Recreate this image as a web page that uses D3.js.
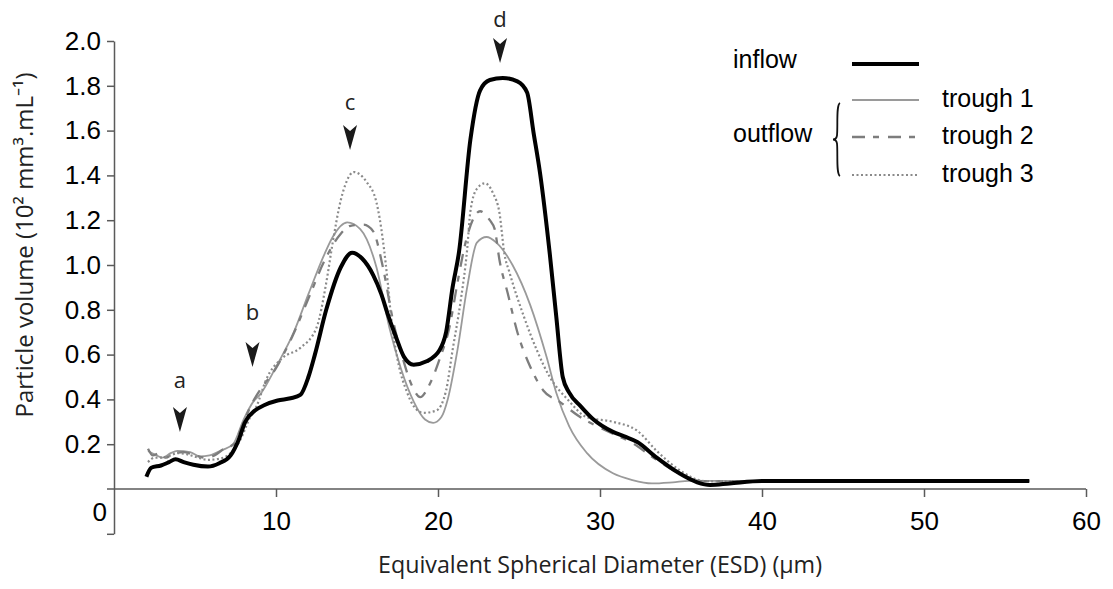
<!DOCTYPE html>
<html>
<head>
<meta charset="utf-8">
<script src="https://cdn.jsdelivr.net/npm/d3@7/dist/d3.min.js"></script>
<style>
  html, body { margin: 0; padding: 0; background: #fff; }
  svg { display: block; }
</style>
</head>
<body>
<svg id="chart" width="1113" height="589"></svg>
<script>
// ---------- DATA ----------
const esdTicks = [10, 20, 30, 40, 50, 60];
const volTicks = [0.2, 0.4, 0.6, 0.8, 1.0, 1.2, 1.4, 1.6, 1.8, 2.0];

// [ESD (µm), particle volume (10^2 mm3/mL)]
const inflow = [[2.0,0.055],[2.3,0.095],[2.9,0.105],[3.4,0.12],[3.8,0.133],[4.3,0.12],[4.9,0.108],[5.8,0.10],[6.5,0.115],[7.2,0.15],[7.7,0.22],[8.1,0.30],[8.7,0.35],[9.3,0.375],[10.1,0.395],[10.9,0.405],[11.5,0.42],[12.0,0.50],[12.4,0.60],[13.1,0.80],[14.0,0.99],[14.7,1.055],[15.3,1.03],[16.0,0.955],[16.5,0.87],[16.9,0.78],[17.4,0.68],[17.9,0.59],[18.5,0.555],[19.3,0.57],[20.1,0.62],[20.5,0.70],[20.9,0.90],[21.3,1.06],[22.0,1.56],[22.6,1.78],[23.2,1.826],[24.0,1.835],[24.9,1.82],[25.5,1.77],[25.9,1.59],[26.3,1.41],[26.9,1.05],[27.3,0.77],[27.7,0.50],[28.1,0.43],[28.8,0.37],[29.6,0.31],[30.8,0.255],[31.5,0.235],[32.3,0.21],[33.5,0.14],[34.9,0.07],[36.0,0.03],[36.8,0.018],[38.0,0.025],[40.0,0.036],[56.5,0.036]];

const trough1 = [[2.1,0.17],[2.5,0.155],[3.0,0.14],[3.5,0.16],[3.9,0.17],[4.7,0.165],[5.3,0.145],[5.9,0.15],[6.7,0.175],[7.35,0.20],[8.0,0.31],[8.6,0.39],[9.0,0.42],[10.0,0.545],[11.1,0.70],[12.0,0.87],[13.0,1.05],[13.5,1.125],[14.4,1.19],[15.2,1.16],[16.2,0.99],[17.0,0.72],[17.7,0.54],[18.5,0.39],[19.2,0.31],[19.7,0.295],[20.2,0.32],[20.6,0.40],[21.2,0.62],[21.8,0.90],[22.4,1.10],[23.0,1.125],[23.6,1.10],[24.6,1.00],[25.7,0.82],[26.7,0.59],[27.3,0.43],[28.1,0.28],[29.2,0.16],[30.8,0.07],[32.0,0.04],[33.2,0.025],[34.5,0.03],[35.5,0.036],[56.5,0.036]];

const trough2 = [[2.1,0.18],[2.4,0.15],[2.8,0.16],[3.2,0.14],[3.7,0.16],[4.3,0.165],[5.0,0.15],[5.6,0.14],[6.2,0.15],[6.8,0.18],[7.4,0.20],[7.9,0.28],[8.5,0.38],[9.0,0.44],[10.0,0.54],[11.0,0.68],[12.0,0.85],[13.0,1.02],[14.0,1.14],[14.6,1.175],[15.4,1.18],[16.0,1.15],[16.6,0.99],[17.2,0.76],[17.8,0.59],[18.4,0.46],[18.9,0.41],[19.5,0.47],[20.1,0.58],[20.7,0.72],[21.2,0.92],[21.7,1.10],[22.2,1.21],[22.6,1.24],[23.2,1.20],[23.5,1.16],[23.8,1.02],[24.3,0.875],[24.9,0.70],[25.7,0.545],[26.5,0.44],[27.5,0.39],[28.8,0.32],[30.4,0.26],[32.0,0.205],[33.5,0.13],[34.9,0.07],[36.3,0.035],[56.5,0.036]];

const trough3 = [[2.1,0.12],[2.5,0.14],[3.0,0.14],[3.5,0.15],[3.9,0.16],[4.5,0.155],[5.2,0.14],[5.8,0.13],[6.5,0.135],[7.2,0.16],[7.8,0.22],[8.4,0.32],[8.8,0.37],[9.4,0.49],[10.4,0.585],[11.5,0.63],[12.5,0.72],[13.1,0.92],[13.5,1.10],[14.0,1.29],[14.4,1.38],[14.8,1.415],[15.6,1.37],[16.2,1.28],[16.6,1.11],[16.9,0.92],[17.1,0.77],[17.5,0.58],[18.1,0.43],[18.5,0.37],[19.1,0.34],[19.9,0.35],[20.5,0.44],[20.9,0.62],[21.4,0.84],[21.8,1.07],[22.0,1.24],[22.4,1.34],[22.9,1.365],[23.4,1.32],[23.8,1.23],[24.1,1.05],[24.4,0.97],[25.3,0.77],[26.1,0.62],[26.9,0.50],[28.0,0.40],[29.2,0.32],[30.8,0.30],[32.3,0.26],[33.5,0.17],[34.9,0.085],[36.5,0.035],[56.5,0.036]];

const peakLabels   = ["a", "b", "c", "d"];
const peakEsd      = [4.07, 8.55, 14.57, 23.83];
const peakTipVol   = [0.254, 0.545, 1.513, 1.902];
const peakLabelVol = [0.451, 0.754, 1.692, 2.062];

const seriesNames = ["inflow", "trough 1", "trough 2", "trough 3"];

// ---------- LAYOUT ----------
const svg = d3.select("#chart");
const x = d3.scaleLinear().domain([0, 60]).range([114, 1086]);
const y = d3.scaleLinear().domain([-0.2, 2.0]).range([533.8, 41]);

const axisColor = "#5a5a5a";
const tickFont = "'Liberation Sans', Arial, sans-serif";
const titleFont = "'Open Sans', 'Noto Sans', sans-serif";

const styles = {
  "inflow":   { stroke: "#000",    width: 4,   dash: null },
  "trough 1": { stroke: "#9a9a9a", width: 1.8, dash: null },
  "trough 2": { stroke: "#7d7d7d", width: 2.3, dash: "13,8,6,9" },
  "trough 3": { stroke: "#8a8a8a", width: 2.2, dash: "2,2.5" }
};
const seriesData = { "inflow": inflow, "trough 1": trough1, "trough 2": trough2, "trough 3": trough3 };

// ---------- AXES ----------
const yAxis = d3.axisLeft(y)
  .tickValues([-0.2, ...volTicks])
  .tickFormat(d => d < 0 ? "" : d3.format(".1f")(d))
  .tickSize(7).tickPadding(6).tickSizeOuter(0);
const gy = svg.append("g").attr("transform", `translate(${x(0)},0)`).call(yAxis);
gy.select(".domain").attr("stroke", axisColor).attr("stroke-width", 1.5);
gy.selectAll(".tick line").attr("stroke", axisColor).attr("stroke-width", 1.5);
gy.selectAll(".tick text").attr("font-family", tickFont).attr("font-size", 26).attr("fill", "#000");

const xAxis = d3.axisBottom(x).tickValues(esdTicks).tickSize(8).tickPadding(15).tickSizeOuter(0);
const gx = svg.append("g").attr("transform", `translate(0,${y(0)})`).call(xAxis);
gx.select(".domain").remove();
gx.append("line").attr("x1", x(0) - 7).attr("x2", x(60)).attr("y1", 0).attr("y2", 0)
  .attr("stroke", axisColor).attr("stroke-width", 1.5);
gx.selectAll(".tick line").attr("stroke", axisColor).attr("stroke-width", 1.5);
gx.selectAll(".tick text").attr("font-family", tickFont).attr("font-size", 26).attr("fill", "#000");

// origin "0" label
svg.append("text").attr("x", x(0) - 7).attr("y", y(-0.1)).attr("dy", "0.35em")
  .attr("text-anchor", "end").attr("font-family", tickFont).attr("font-size", 26).text("0");

// axis titles
svg.append("text").attr("x", 600).attr("y", 573).attr("text-anchor", "middle")
  .attr("font-family", titleFont).attr("font-size", 24).attr("fill", "#222")
  .attr("textLength", 444).attr("lengthAdjust", "spacingAndGlyphs")
  .text("Equivalent Spherical Diameter (ESD) (µm)");

svg.append("text").attr("transform", "translate(33,245) rotate(-90)").attr("text-anchor", "middle")
  .attr("font-family", titleFont).attr("font-size", 24).attr("fill", "#222")
  .attr("textLength", 345).attr("lengthAdjust", "spacingAndGlyphs")
  .text("Particle volume (10² mm³.mL⁻¹)");

// ---------- LINES ----------
const line = d3.line().x(d => x(d[0])).y(d => y(d[1])).curve(d3.curveMonotoneX);
["trough 1", "trough 2", "trough 3", "inflow"].forEach(name => {
  const s = styles[name];
  svg.append("path").datum(seriesData[name])
    .attr("d", line).attr("fill", "none")
    .attr("stroke", s.stroke).attr("stroke-width", s.width)
    .attr("stroke-dasharray", s.dash)
    .attr("stroke-linejoin", "round");
});

// ---------- PEAK ANNOTATIONS ----------
peakLabels.forEach((lab, i) => {
  const cx = x(peakEsd[i]), ty = y(peakTipVol[i]);
  svg.append("path")
    .attr("d", `M${cx - 7},${ty - 25} L${cx},${ty - 19} L${cx + 7},${ty - 25} L${cx},${ty} Z`)
    .attr("fill", "#1a1a1a");
  svg.append("text").attr("x", cx).attr("y", y(peakLabelVol[i])).attr("text-anchor", "middle")
    .attr("font-family", titleFont).attr("font-size", 22).attr("fill", "#222").text(lab);
});

// ---------- LEGEND ----------
const legendFont = "'Liberation Sans', Arial, sans-serif";
const leg = svg.append("g");
leg.append("text").attr("x", 733).attr("y", 68).attr("font-family", legendFont).attr("font-size", 25).text("inflow");
leg.append("text").attr("x", 733).attr("y", 142).attr("font-family", legendFont).attr("font-size", 25).text("outflow");
const legY = [64, 100, 137, 175];
seriesNames.forEach((name, i) => {
  const s = styles[name];
  leg.append("line").attr("x1", 852).attr("x2", 919).attr("y1", legY[i]).attr("y2", legY[i])
    .attr("stroke", s.stroke).attr("stroke-width", s.width).attr("stroke-dasharray", s.dash);
  if (i > 0) {
    leg.append("text").attr("x", 942).attr("y", legY[i] + 7).attr("font-family", legendFont)
      .attr("font-size", 25).text(name);
  }
});
// brace
const bx = 838, bt = 103, bb = 176, bm = (bt + bb) / 2;
leg.append("path")
  .attr("d", `M${bx + 2},${bt} C${bx - 2},${bt + 2} ${bx},${bm - 14} ${bx - 1},${bm - 4} C${bx - 1.5},${bm - 1} ${bx - 3},${bm} ${bx - 5},${bm}
              C${bx - 3},${bm} ${bx - 1.5},${bm + 1} ${bx - 1},${bm + 4} C${bx},${bm + 14} ${bx - 2},${bb - 2} ${bx + 2},${bb}`)
  .attr("fill", "none").attr("stroke", "#111").attr("stroke-width", 1.8);
</script>
</body>
</html>
